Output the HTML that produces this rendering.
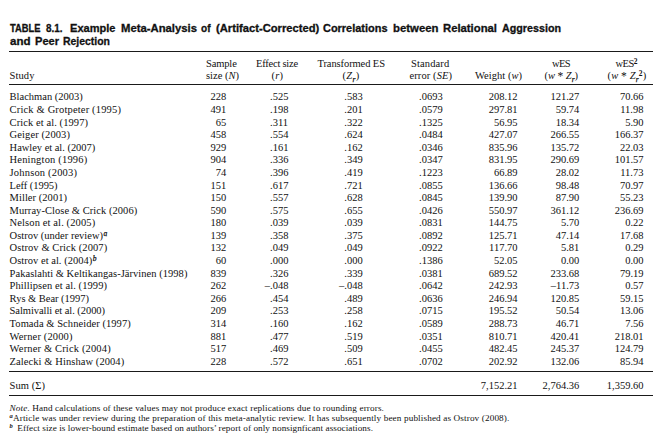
<!DOCTYPE html>
<html><head><meta charset="utf-8"><title>Table 8.1</title>
<style>
html,body{margin:0;padding:0;background:#fff;}
body{width:655px;height:447px;position:relative;overflow:hidden;font-family:"Liberation Serif",serif;color:#111;}
.c{position:absolute;font-size:10.5px;line-height:20px;margin-top:-13.55px;white-space:nowrap;}
.c.r{text-align:right;}
.sp{font-size:7.5px;position:relative;top:-3.2px;line-height:0;font-weight:bold;}
.sb{font-size:7.5px;position:relative;top:2.5px;line-height:0;font-style:italic;-webkit-text-stroke:0.25px #111;}
.spi{font-size:7.5px;position:relative;top:-3.3px;line-height:0;font-style:italic;-webkit-text-stroke:0.25px #111;letter-spacing:0;margin-left:0.5px;}
.ast{position:relative;top:1.1px;font-size:11.5px;line-height:0;}
.neg{position:absolute;right:100%;top:0;}
.rule{position:absolute;left:9px;width:643.5px;height:1px;background:#1a1a1a;}
.t{position:absolute;transform-origin:0 0;font-family:"Liberation Sans",sans-serif;font-weight:bold;font-size:11px;line-height:20px;margin-top:-13.9px;white-space:nowrap;color:#111;-webkit-text-stroke:0.3px #111;}
.n{position:absolute;font-size:9.2px;line-height:12px;margin-top:-9.1px;white-space:nowrap;}
.nsp{font-size:6.5px;position:relative;top:-2.6px;line-height:0;font-style:italic;font-weight:bold;}
</style></head><body>
<div class="rule" style="top:51px"></div>
<div class="rule" style="top:84px"></div>
<div class="rule" style="top:371px"></div>
<div class="rule" style="top:394.5px"></div>
<span class="t" style="left:9.50px;top:32.15px;transform:scaleX(0.8505)">TABLE</span>
<span class="t" style="left:45.50px;top:32.15px;transform:scaleX(0.8987)">8.1.</span>
<span class="t" style="left:70.00px;top:32.15px;transform:scaleX(1.0055)">Example</span>
<span class="t" style="left:120.50px;top:32.15px;transform:scaleX(1.0272)">Meta-Analysis</span>
<span class="t" style="left:200.50px;top:32.15px;transform:scaleX(0.9143)">of</span>
<span class="t" style="left:215.50px;top:32.15px;transform:scaleX(1.0176)">(Artifact-Corrected)</span>
<span class="t" style="left:323.00px;top:32.15px;transform:scaleX(0.9954)">Correlations</span>
<span class="t" style="left:392.50px;top:32.15px;transform:scaleX(1.0337)">between</span>
<span class="t" style="left:443.00px;top:32.15px;transform:scaleX(1.0270)">Relational</span>
<span class="t" style="left:501.75px;top:32.15px;transform:scaleX(0.9750)">Aggression</span>
<span class="t" style="left:9.50px;top:44.40px;transform:scaleX(1.0479)">and</span>
<span class="t" style="left:34.50px;top:44.40px;transform:scaleX(1.0059)">Peer</span>
<span class="t" style="left:62.50px;top:44.40px;transform:scaleX(0.9492)">Rejection</span>
<span class="c" style="left:9.60px;top:79.60px;letter-spacing:0.085px">Study</span>
<span class="c" style="left:206.00px;top:67.50px;letter-spacing:-0.136px">Sample</span>
<span class="c" style="left:206.00px;top:79.60px;letter-spacing:0.004px">size (<i>N</i>)</span>
<span class="c" style="left:256.00px;top:67.50px;letter-spacing:-0.229px">Effect size</span>
<span class="c" style="left:271.50px;top:79.60px;letter-spacing:0.163px">(<i>r</i>)</span>
<span class="c" style="left:317.50px;top:67.50px;letter-spacing:-0.093px">Transformed ES</span>
<span class="c" style="left:342.50px;top:79.60px;letter-spacing:0.353px">(<i>Z</i><span class="sb">r</span>)</span>
<span class="c" style="left:411.00px;top:67.50px;letter-spacing:0.123px">Standard</span>
<span class="c" style="left:409.50px;top:79.60px;letter-spacing:0.084px">error (<i>SE</i>)</span>
<span class="c" style="left:475.00px;top:79.60px;letter-spacing:0.031px">Weight (<i>w</i>)</span>
<span class="c" style="left:552.00px;top:67.50px;letter-spacing:-0.600px">wES</span>
<span class="c" style="left:544.50px;top:79.60px;letter-spacing:-0.037px">(<i>w</i> <span class="ast">*</span> <i>Z</i><span class="sb">r</span>)</span>
<span class="c" style="left:615.40px;top:67.50px;letter-spacing:-0.484px">wES<span class="sp">2</span></span>
<span class="c" style="left:607.50px;top:79.60px;letter-spacing:0.138px">(<i>w</i> <span class="ast">*</span> <i>Z</i><span class="sb">r</span><span class="sp">2</span>)</span>
<span class="c" style="left:9.60px;top:101.00px;letter-spacing:-0.003px">Blachman (2003)</span>
<span class="c" style="left:9.60px;top:113.58px;letter-spacing:0.161px">Crick &amp; Grotpeter (1995)</span>
<span class="c" style="left:9.60px;top:126.17px;letter-spacing:0.077px">Crick et al. (1997)</span>
<span class="c" style="left:9.60px;top:138.75px;letter-spacing:0.097px">Geiger (2003)</span>
<span class="c" style="left:9.60px;top:151.33px;letter-spacing:-0.034px">Hawley et al. (2007)</span>
<span class="c" style="left:9.60px;top:163.91px;letter-spacing:0.174px">Henington (1996)</span>
<span class="c" style="left:9.60px;top:176.50px;letter-spacing:0.174px">Johnson (2003)</span>
<span class="c" style="left:9.60px;top:189.08px;letter-spacing:-0.057px">Leff (1995)</span>
<span class="c" style="left:9.60px;top:201.66px;letter-spacing:0.042px">Miller (2001)</span>
<span class="c" style="left:9.60px;top:214.25px;letter-spacing:0.052px">Murray-Close &amp; Crick (2006)</span>
<span class="c" style="left:9.60px;top:226.83px;letter-spacing:0.115px">Nelson et al. (2005)</span>
<span class="c" style="left:9.60px;top:239.41px;letter-spacing:0.004px">Ostrov (under review)<span class="spi">a</span></span>
<span class="c" style="left:9.60px;top:252.00px;letter-spacing:0.083px">Ostrov &amp; Crick (2007)</span>
<span class="c" style="left:9.60px;top:264.58px;letter-spacing:0.021px">Ostrov et al. (2004)<span class="spi">b</span></span>
<span class="c" style="left:9.60px;top:277.16px;letter-spacing:0.035px">Pakaslahti &amp; Keltikangas-Järvinen (1998)</span>
<span class="c" style="left:9.60px;top:289.75px;letter-spacing:0.074px">Phillipsen et al. (1999)</span>
<span class="c" style="left:9.60px;top:302.33px;letter-spacing:-0.023px">Rys &amp; Bear (1997)</span>
<span class="c" style="left:9.60px;top:314.91px;letter-spacing:-0.060px">Salmivalli et al. (2000)</span>
<span class="c" style="left:9.60px;top:327.49px;letter-spacing:0.059px">Tomada &amp; Schneider (1997)</span>
<span class="c" style="left:9.60px;top:340.08px;letter-spacing:0.131px">Werner (2000)</span>
<span class="c" style="left:9.60px;top:352.66px;letter-spacing:0.154px">Werner &amp; Crick (2004)</span>
<span class="c" style="left:9.60px;top:365.24px;letter-spacing:0.076px">Zalecki &amp; Hinshaw (2004)</span>
<span class="c" style="left:9.60px;top:389.30px;letter-spacing:0.062px">Sum (Σ)</span>
<span class="n" style="left:9.60px;top:410.80px;letter-spacing:0.124px"><i>Note.</i> Hand calculations of these values may not produce exact replications due to rounding errors.</span>
<span class="n" style="left:9.60px;top:421.00px;letter-spacing:0.126px"><span class="nsp">a</span>Article was under review during the preparation of this meta-analytic review. It has subsequently been published as Ostrov (2008).</span>
<span class="n" style="left:9.60px;top:431.00px;letter-spacing:0.062px"><span class="nsp" style="margin-right:2px">b</span> Effect size is lower-bound estimate based on authors’ report of only nonsignficant associations.</span>
<span class="c r" style="right:428.8px;top:101.00px">228</span>
<span class="c" style="left:270.1px;top:101.00px">.525</span>
<span class="c" style="left:344.3px;top:101.00px">.583</span>
<span class="c" style="left:419.0px;top:101.00px">.0693</span>
<span class="c r" style="right:137.4px;top:101.00px">208.12</span>
<span class="c r" style="right:75.7px;top:101.00px">121.27</span>
<span class="c r" style="right:11.5px;top:101.00px">70.66</span>
<span class="c r" style="right:428.8px;top:113.58px">491</span>
<span class="c" style="left:270.1px;top:113.58px">.198</span>
<span class="c" style="left:344.3px;top:113.58px">.201</span>
<span class="c" style="left:419.0px;top:113.58px">.0579</span>
<span class="c r" style="right:137.4px;top:113.58px">297.81</span>
<span class="c r" style="right:75.7px;top:113.58px">59.74</span>
<span class="c r" style="right:11.5px;top:113.58px">11.98</span>
<span class="c r" style="right:428.8px;top:126.17px">65</span>
<span class="c" style="left:270.1px;top:126.17px">.311</span>
<span class="c" style="left:344.3px;top:126.17px">.322</span>
<span class="c" style="left:419.0px;top:126.17px">.1325</span>
<span class="c r" style="right:137.4px;top:126.17px">56.95</span>
<span class="c r" style="right:75.7px;top:126.17px">18.34</span>
<span class="c r" style="right:11.5px;top:126.17px">5.90</span>
<span class="c r" style="right:428.8px;top:138.75px">458</span>
<span class="c" style="left:270.1px;top:138.75px">.554</span>
<span class="c" style="left:344.3px;top:138.75px">.624</span>
<span class="c" style="left:419.0px;top:138.75px">.0484</span>
<span class="c r" style="right:137.4px;top:138.75px">427.07</span>
<span class="c r" style="right:75.7px;top:138.75px">266.55</span>
<span class="c r" style="right:11.5px;top:138.75px">166.37</span>
<span class="c r" style="right:428.8px;top:151.33px">929</span>
<span class="c" style="left:270.1px;top:151.33px">.161</span>
<span class="c" style="left:344.3px;top:151.33px">.162</span>
<span class="c" style="left:419.0px;top:151.33px">.0346</span>
<span class="c r" style="right:137.4px;top:151.33px">835.96</span>
<span class="c r" style="right:75.7px;top:151.33px">135.72</span>
<span class="c r" style="right:11.5px;top:151.33px">22.03</span>
<span class="c r" style="right:428.8px;top:163.91px">904</span>
<span class="c" style="left:270.1px;top:163.91px">.336</span>
<span class="c" style="left:344.3px;top:163.91px">.349</span>
<span class="c" style="left:419.0px;top:163.91px">.0347</span>
<span class="c r" style="right:137.4px;top:163.91px">831.95</span>
<span class="c r" style="right:75.7px;top:163.91px">290.69</span>
<span class="c r" style="right:11.5px;top:163.91px">101.57</span>
<span class="c r" style="right:428.8px;top:176.50px">74</span>
<span class="c" style="left:270.1px;top:176.50px">.396</span>
<span class="c" style="left:344.3px;top:176.50px">.419</span>
<span class="c" style="left:419.0px;top:176.50px">.1223</span>
<span class="c r" style="right:137.4px;top:176.50px">66.89</span>
<span class="c r" style="right:75.7px;top:176.50px">28.02</span>
<span class="c r" style="right:11.5px;top:176.50px">11.73</span>
<span class="c r" style="right:428.8px;top:189.08px">151</span>
<span class="c" style="left:270.1px;top:189.08px">.617</span>
<span class="c" style="left:344.3px;top:189.08px">.721</span>
<span class="c" style="left:419.0px;top:189.08px">.0855</span>
<span class="c r" style="right:137.4px;top:189.08px">136.66</span>
<span class="c r" style="right:75.7px;top:189.08px">98.48</span>
<span class="c r" style="right:11.5px;top:189.08px">70.97</span>
<span class="c r" style="right:428.8px;top:201.66px">150</span>
<span class="c" style="left:270.1px;top:201.66px">.557</span>
<span class="c" style="left:344.3px;top:201.66px">.628</span>
<span class="c" style="left:419.0px;top:201.66px">.0845</span>
<span class="c r" style="right:137.4px;top:201.66px">139.90</span>
<span class="c r" style="right:75.7px;top:201.66px">87.90</span>
<span class="c r" style="right:11.5px;top:201.66px">55.23</span>
<span class="c r" style="right:428.8px;top:214.25px">590</span>
<span class="c" style="left:270.1px;top:214.25px">.575</span>
<span class="c" style="left:344.3px;top:214.25px">.655</span>
<span class="c" style="left:419.0px;top:214.25px">.0426</span>
<span class="c r" style="right:137.4px;top:214.25px">550.97</span>
<span class="c r" style="right:75.7px;top:214.25px">361.12</span>
<span class="c r" style="right:11.5px;top:214.25px">236.69</span>
<span class="c r" style="right:428.8px;top:226.83px">180</span>
<span class="c" style="left:270.1px;top:226.83px">.039</span>
<span class="c" style="left:344.3px;top:226.83px">.039</span>
<span class="c" style="left:419.0px;top:226.83px">.0831</span>
<span class="c r" style="right:137.4px;top:226.83px">144.75</span>
<span class="c r" style="right:75.7px;top:226.83px">5.70</span>
<span class="c r" style="right:11.5px;top:226.83px">0.22</span>
<span class="c r" style="right:428.8px;top:239.41px">139</span>
<span class="c" style="left:270.1px;top:239.41px">.358</span>
<span class="c" style="left:344.3px;top:239.41px">.375</span>
<span class="c" style="left:419.0px;top:239.41px">.0892</span>
<span class="c r" style="right:137.4px;top:239.41px">125.71</span>
<span class="c r" style="right:75.7px;top:239.41px">47.14</span>
<span class="c r" style="right:11.5px;top:239.41px">17.68</span>
<span class="c r" style="right:428.8px;top:252.00px">132</span>
<span class="c" style="left:270.1px;top:252.00px">.049</span>
<span class="c" style="left:344.3px;top:252.00px">.049</span>
<span class="c" style="left:419.0px;top:252.00px">.0922</span>
<span class="c r" style="right:137.4px;top:252.00px">117.70</span>
<span class="c r" style="right:75.7px;top:252.00px">5.81</span>
<span class="c r" style="right:11.5px;top:252.00px">0.29</span>
<span class="c r" style="right:428.8px;top:264.58px">60</span>
<span class="c" style="left:270.1px;top:264.58px">.000</span>
<span class="c" style="left:344.3px;top:264.58px">.000</span>
<span class="c" style="left:419.0px;top:264.58px">.1386</span>
<span class="c r" style="right:137.4px;top:264.58px">52.05</span>
<span class="c r" style="right:75.7px;top:264.58px">0.00</span>
<span class="c r" style="right:11.5px;top:264.58px">0.00</span>
<span class="c r" style="right:428.8px;top:277.16px">839</span>
<span class="c" style="left:270.1px;top:277.16px">.326</span>
<span class="c" style="left:344.3px;top:277.16px">.339</span>
<span class="c" style="left:419.0px;top:277.16px">.0381</span>
<span class="c r" style="right:137.4px;top:277.16px">689.52</span>
<span class="c r" style="right:75.7px;top:277.16px">233.68</span>
<span class="c r" style="right:11.5px;top:277.16px">79.19</span>
<span class="c r" style="right:428.8px;top:289.75px">262</span>
<span class="c" style="left:270.1px;top:289.75px"><span class="neg">–</span>.048</span>
<span class="c" style="left:344.3px;top:289.75px"><span class="neg">–</span>.048</span>
<span class="c" style="left:419.0px;top:289.75px">.0642</span>
<span class="c r" style="right:137.4px;top:289.75px">242.93</span>
<span class="c r" style="right:75.7px;top:289.75px">–11.73</span>
<span class="c r" style="right:11.5px;top:289.75px">0.57</span>
<span class="c r" style="right:428.8px;top:302.33px">266</span>
<span class="c" style="left:270.1px;top:302.33px">.454</span>
<span class="c" style="left:344.3px;top:302.33px">.489</span>
<span class="c" style="left:419.0px;top:302.33px">.0636</span>
<span class="c r" style="right:137.4px;top:302.33px">246.94</span>
<span class="c r" style="right:75.7px;top:302.33px">120.85</span>
<span class="c r" style="right:11.5px;top:302.33px">59.15</span>
<span class="c r" style="right:428.8px;top:314.91px">209</span>
<span class="c" style="left:270.1px;top:314.91px">.253</span>
<span class="c" style="left:344.3px;top:314.91px">.258</span>
<span class="c" style="left:419.0px;top:314.91px">.0715</span>
<span class="c r" style="right:137.4px;top:314.91px">195.52</span>
<span class="c r" style="right:75.7px;top:314.91px">50.54</span>
<span class="c r" style="right:11.5px;top:314.91px">13.06</span>
<span class="c r" style="right:428.8px;top:327.49px">314</span>
<span class="c" style="left:270.1px;top:327.49px">.160</span>
<span class="c" style="left:344.3px;top:327.49px">.162</span>
<span class="c" style="left:419.0px;top:327.49px">.0589</span>
<span class="c r" style="right:137.4px;top:327.49px">288.73</span>
<span class="c r" style="right:75.7px;top:327.49px">46.71</span>
<span class="c r" style="right:11.5px;top:327.49px">7.56</span>
<span class="c r" style="right:428.8px;top:340.08px">881</span>
<span class="c" style="left:270.1px;top:340.08px">.477</span>
<span class="c" style="left:344.3px;top:340.08px">.519</span>
<span class="c" style="left:419.0px;top:340.08px">.0351</span>
<span class="c r" style="right:137.4px;top:340.08px">810.71</span>
<span class="c r" style="right:75.7px;top:340.08px">420.41</span>
<span class="c r" style="right:11.5px;top:340.08px">218.01</span>
<span class="c r" style="right:428.8px;top:352.66px">517</span>
<span class="c" style="left:270.1px;top:352.66px">.469</span>
<span class="c" style="left:344.3px;top:352.66px">.509</span>
<span class="c" style="left:419.0px;top:352.66px">.0455</span>
<span class="c r" style="right:137.4px;top:352.66px">482.45</span>
<span class="c r" style="right:75.7px;top:352.66px">245.37</span>
<span class="c r" style="right:11.5px;top:352.66px">124.79</span>
<span class="c r" style="right:428.8px;top:365.24px">228</span>
<span class="c" style="left:270.1px;top:365.24px">.572</span>
<span class="c" style="left:344.3px;top:365.24px">.651</span>
<span class="c" style="left:419.0px;top:365.24px">.0702</span>
<span class="c r" style="right:137.4px;top:365.24px">202.92</span>
<span class="c r" style="right:75.7px;top:365.24px">132.06</span>
<span class="c r" style="right:11.5px;top:365.24px">85.94</span>
<span class="c r" style="right:137.4px;top:389.30px">7,152.21</span>
<span class="c r" style="right:75.7px;top:389.30px">2,764.36</span>
<span class="c r" style="right:11.5px;top:389.30px">1,359.60</span>
</body></html>
